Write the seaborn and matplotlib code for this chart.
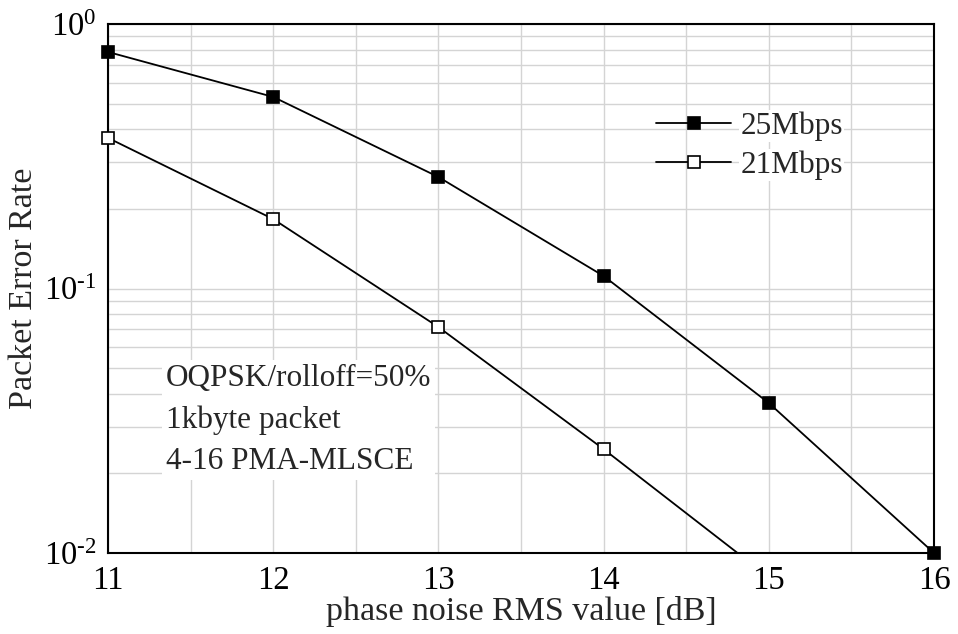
import numpy as np
import pandas as pd
import matplotlib
matplotlib.use("Agg")
import matplotlib.pyplot as plt
import seaborn as sns
from matplotlib.patches import Rectangle
from matplotlib.ticker import LogLocator, MultipleLocator, NullFormatter, FuncFormatter

# ---- data ----
x_db = [11, 12, 13, 14, 15, 16]
per_25 = [0.784, 0.53, 0.264, 0.1115, 0.0369, 0.0100]
x_db_21 = [11, 12, 13, 14, 15]
per_21 = [0.371, 0.183, 0.0715, 0.0247, 0.0081]
series_names = ["25Mbps", "21Mbps"]
x_ticks = [11, 12, 13, 14, 15, 16]
annotation_lines = ["OQPSK/rolloff=50%", "1kbyte packet", "4-16 PMA-MLSCE"]

sns.set_style("white")
plt.rcParams['font.family'] = ['Liberation Serif', 'DejaVu Serif']
plt.rcParams['mathtext.fontset'] = 'custom'
plt.rcParams['mathtext.rm'] = 'Liberation Serif'
plt.rcParams['mathtext.it'] = 'Liberation Serif:italic'

df25 = pd.DataFrame({"x": x_db, "per": per_25})
df21 = pd.DataFrame({"x": x_db_21, "per": per_21})

fig = plt.figure(figsize=(9.58, 6.34), dpi=100)
ax = fig.add_axes([108/958, 1-553/634, (934-108)/958, (553-24)/634])

sns.lineplot(data=df25, x="x", y="per", ax=ax, color="black", lw=1.3,
             marker="s", markersize=9, markerfacecolor="black",
             markeredgecolor="black", markeredgewidth=1.2, label=series_names[0],
             clip_on=False, zorder=5)
sns.lineplot(data=df21, x="x", y="per", ax=ax, color="black", lw=1.3,
             marker="s", markersize=9, markerfacecolor="white",
             markeredgecolor="black", markeredgewidth=1.2, label=series_names[1],
             zorder=5)

ax.set_yscale("log")
ax.set_xlim(11, 16)
ax.set_ylim(1e-2, 1)

# clip 21Mbps only at bottom/top, not at the sides
line21 = ax.lines[1]
rect = Rectangle((-0.05, 0.0), 1.1, 1.05, transform=ax.transAxes)
line21.set_clip_path(rect)

ax.set_xticks(x_ticks)
ax.xaxis.set_minor_locator(MultipleLocator(0.5))
ax.yaxis.set_major_locator(LogLocator(base=10, numticks=10))
ax.yaxis.set_minor_locator(LogLocator(base=10, subs=np.arange(2, 10), numticks=20))
ax.yaxis.set_minor_formatter(NullFormatter())


def log_fmt(v, pos):
    e = int(round(np.log10(v)))
    return r"$\mathdefault{10^{\text{%d}}}$" % e


ax.yaxis.set_major_formatter(FuncFormatter(log_fmt))

ax.grid(True, which="both", color="#d4d4d4", lw=1.0, zorder=0)
ax.set_axisbelow(True)

ax.tick_params(axis="both", which="major", direction="in", length=9, width=1.5,
               labelsize=23.5, top=False, right=False, colors="black")
ax.tick_params(axis="x", which="major", pad=9)
ax.tick_params(axis="y", which="major", pad=8)
ax.tick_params(axis="both", which="minor", direction="in", length=5, width=1.0,
               top=False, right=False)
for s in ax.spines.values():
    s.set_color("black")
    s.set_linewidth(1.5)

ax.set_xlabel("phase noise RMS value [dB]", fontsize=24.5, labelpad=0)
ax.set_ylabel("Packet Error Rate", fontsize=24.5, labelpad=4)

leg = ax.legend(loc="upper right", bbox_to_anchor=(0.905, 0.858), frameon=False,
                fontsize=22.5, handlelength=2.4, handletextpad=0.3,
                labelspacing=0.3, borderaxespad=0)
for t in leg.get_texts():
    t.set_bbox(dict(facecolor="white", edgecolor="none", pad=1))

ax.text(0.070, 0.357, "\n".join(annotation_lines), transform=ax.transAxes,
        fontsize=22.5, va="top", ha="left", linespacing=1.55,
        bbox=dict(facecolor="white", edgecolor="none", pad=3), zorder=6)

fig.savefig("out.png", dpi=100)
